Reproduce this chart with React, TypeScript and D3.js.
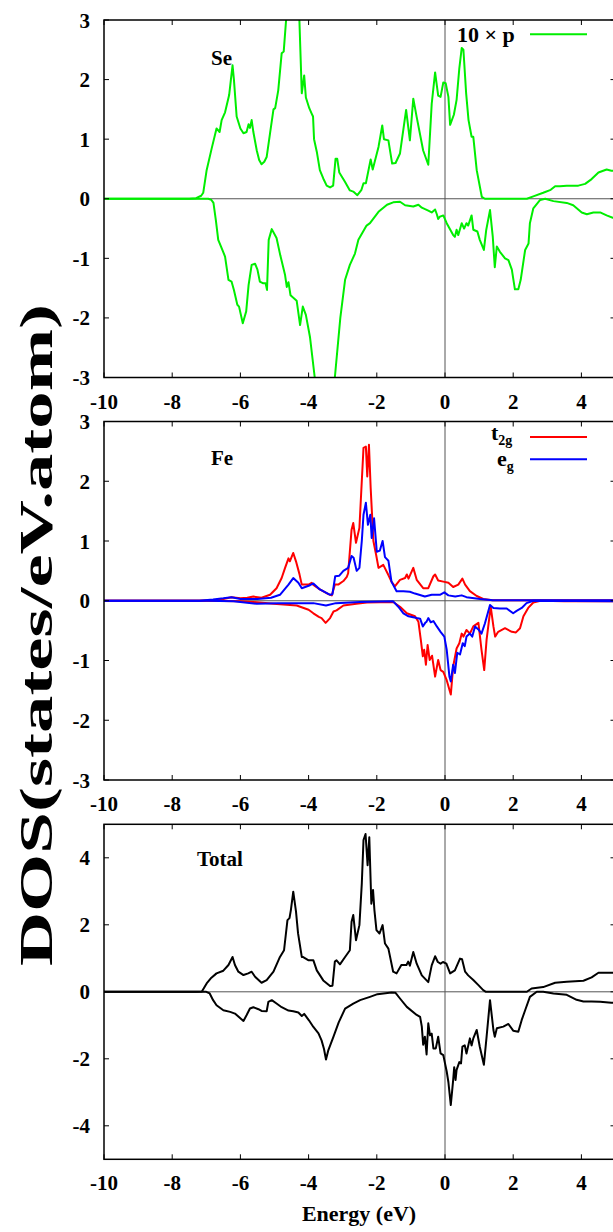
import React from "react";
import * as d3 from "d3";

// Energy axis ticks (eV) and panel y ticks
const energyTicks = [-10, -8, -6, -4, -2, 0, 2, 4];
const smallTicks = [-3, -2, -1, 0, 1, 2, 3];
const totalTicks = [-4, -2, 0, 2, 4];

// Se 10×p DOS, spin up / spin down  [energy, DOS]
const seUp: [number, number][] = [[-10,0],[-7.5,0],[-7.3,0.01],[-7.15,0.05],[-7.09,0.10],[-6.99,0.48],[-6.84,0.85],[-6.70,1.18],[-6.61,1.12],[-6.55,1.32],[-6.45,1.45],[-6.33,1.74],[-6.28,1.99],[-6.23,2.24],[-6.19,2.0],[-6.11,1.38],[-6.0,1.18],[-5.91,1.10],[-5.82,1.12],[-5.76,1.25],[-5.72,1.19],[-5.67,1.32],[-5.62,1.12],[-5.52,0.81],[-5.45,0.65],[-5.38,0.58],[-5.30,0.62],[-5.23,0.70],[-5.13,1.10],[-5.03,1.5],[-4.98,1.52],[-4.89,1.82],[-4.79,2.44],[-4.73,2.47],[-4.66,3.0],[-4.6,3.8],[-4.5,4.4],[-4.4,4.2],[-4.3,3.5],[-4.27,3.0],[-4.20,1.77],[-4.13,2.07],[-4.08,1.70],[-3.98,1.52],[-3.91,1.43],[-3.87,1.38],[-3.84,1.0],[-3.76,0.79],[-3.67,0.48],[-3.57,0.34],[-3.47,0.22],[-3.37,0.19],[-3.28,0.22],[-3.21,0.67],[-3.16,0.67],[-3.10,0.44],[-2.93,0.28],[-2.79,0.14],[-2.69,0.12],[-2.57,0.06],[-2.45,0.15],[-2.39,0.26],[-2.32,0.26],[-2.18,0.66],[-2.12,0.49],[-1.95,0.87],[-1.84,1.23],[-1.79,1.0],[-1.66,0.98],[-1.55,0.59],[-1.45,0.60],[-1.32,0.76],[-1.14,1.49],[-1.03,0.98],[-0.93,1.68],[-0.83,1.37],[-0.64,0.81],[-0.49,0.57],[-0.39,1.59],[-0.29,2.12],[-0.20,1.73],[-0.13,1.71],[-0.05,1.95],[0.02,1.94],[0.10,1.71],[0.15,1.24],[0.26,1.41],[0.34,1.66],[0.42,2.19],[0.49,2.53],[0.54,2.50],[0.62,1.77],[0.69,1.32],[0.78,1.04],[0.83,1.04],[0.93,0.48],[1.08,0.03],[1.17,0.0],[2.40,0.0],[2.59,0.04],[2.88,0.10],[3.10,0.15],[3.23,0.21],[3.37,0.21],[3.57,0.22],[3.91,0.22],[4.11,0.25],[4.30,0.33],[4.50,0.44],[4.74,0.49],[4.88,0.47],[5.0,0.47]];
const seDown: [number, number][] = [[-10,0],[-6.94,0],[-6.85,-0.02],[-6.79,-0.07],[-6.72,-0.36],[-6.65,-0.69],[-6.55,-0.83],[-6.45,-0.97],[-6.35,-1.36],[-6.26,-1.39],[-6.19,-1.53],[-6.09,-1.78],[-6.04,-1.81],[-5.93,-2.09],[-5.83,-1.89],[-5.76,-1.45],[-5.67,-1.11],[-5.57,-1.09],[-5.50,-1.19],[-5.43,-1.39],[-5.33,-1.42],[-5.26,-1.42],[-5.22,-1.53],[-5.17,-0.69],[-5.08,-0.51],[-4.94,-0.66],[-4.83,-0.95],[-4.69,-1.28],[-4.64,-1.48],[-4.59,-1.40],[-4.53,-1.62],[-4.35,-1.71],[-4.25,-2.12],[-4.17,-1.81],[-4.08,-1.95],[-3.96,-2.32],[-3.82,-3.0],[-3.6,-3.9],[-3.5,-4.2],[-3.4,-3.9],[-3.23,-3.0],[-3.07,-2.0],[-2.93,-1.36],[-2.79,-1.11],[-2.64,-0.92],[-2.54,-0.69],[-2.30,-0.45],[-2.2,-0.41],[-1.95,-0.22],[-1.7,-0.10],[-1.52,-0.06],[-1.32,-0.05],[-1.17,-0.11],[-0.93,-0.13],[-0.78,-0.10],[-0.68,-0.15],[-0.49,-0.20],[-0.39,-0.23],[-0.29,-0.18],[-0.24,-0.26],[-0.20,-0.34],[-0.15,-0.30],[-0.05,-0.28],[0.05,-0.41],[0.24,-0.61],[0.29,-0.64],[0.34,-0.52],[0.39,-0.61],[0.49,-0.41],[0.56,-0.50],[0.63,-0.41],[0.68,-0.45],[0.78,-0.28],[0.83,-0.52],[0.95,-0.55],[1.02,-0.69],[1.14,-0.86],[1.21,-0.52],[1.32,-0.19],[1.40,-0.63],[1.46,-1.15],[1.52,-0.80],[1.61,-0.89],[1.76,-1.0],[1.86,-1.03],[1.96,-1.19],[2.05,-1.52],[2.15,-1.52],[2.22,-1.36],[2.35,-0.86],[2.45,-0.75],[2.49,-0.41],[2.59,-0.16],[2.79,-0.02],[2.94,0.0],[3.18,-0.04],[3.57,-0.07],[3.76,-0.11],[4.01,-0.23],[4.16,-0.26],[4.35,-0.23],[4.55,-0.23],[4.74,-0.28],[4.92,-0.32],[5.0,-0.32]];

// Fe d-states: t2g and eg, spin up / spin down
const t2gUp: [number, number][] = [[-10,0],[-7.2,0],[-6.8,0.01],[-6.5,0.03],[-6.26,0.06],[-6.0,0.04],[-5.8,0.05],[-5.62,0.07],[-5.38,0.05],[-5.13,0.10],[-4.94,0.21],[-4.79,0.38],[-4.69,0.55],[-4.59,0.71],[-4.55,0.66],[-4.45,0.80],[-4.37,0.66],[-4.27,0.45],[-4.2,0.27],[-4.0,0.27],[-3.91,0.30],[-3.87,0.27],[-3.67,0.19],[-3.42,0.11],[-3.32,0.09],[-3.23,0.27],[-3.13,0.27],[-2.98,0.33],[-2.88,0.40],[-2.84,0.46],[-2.74,1.19],[-2.69,1.30],[-2.61,0.97],[-2.51,1.22],[-2.39,2.56],[-2.32,2.58],[-2.28,2.08],[-2.23,2.61],[-2.18,1.89],[-2.10,1.0],[-2.02,0.77],[-1.95,0.55],[-1.81,0.60],[-1.66,0.43],[-1.57,0.32],[-1.47,0.24],[-1.32,0.35],[-1.17,0.38],[-1.12,0.44],[-1.07,0.37],[-0.93,0.55],[-0.83,0.35],[-0.64,0.21],[-0.49,0.21],[-0.34,0.41],[-0.29,0.44],[-0.20,0.34],[-0.05,0.32],[0.10,0.30],[0.24,0.23],[0.39,0.27],[0.51,0.37],[0.59,0.27],[0.73,0.16],[0.93,0.08],[1.12,0.03],[1.4,0.01],[2.5,0.01],[5.0,0.01]];
const t2gDown: [number, number][] = [[-10,0],[-7,0],[-6,-0.01],[-5.62,-0.02],[-5.03,-0.05],[-4.35,-0.08],[-4.0,-0.15],[-3.86,-0.21],[-3.7,-0.27],[-3.62,-0.29],[-3.50,-0.37],[-3.37,-0.29],[-3.27,-0.18],[-3.18,-0.16],[-2.98,-0.08],[-2.6,-0.05],[-2.29,-0.03],[-1.52,-0.02],[-1.32,-0.10],[-1.12,-0.21],[-0.88,-0.26],[-0.78,-0.35],[-0.71,-0.65],[-0.65,-0.93],[-0.61,-0.82],[-0.56,-1.07],[-0.51,-0.74],[-0.45,-0.99],[-0.38,-0.92],[-0.29,-1.27],[-0.20,-0.99],[-0.13,-1.16],[-0.05,-1.19],[0.05,-1.33],[0.17,-1.57],[0.24,-1.10],[0.34,-0.80],[0.42,-0.71],[0.49,-0.55],[0.54,-0.60],[0.63,-0.49],[0.73,-0.55],[0.83,-0.43],[0.98,-0.37],[1.07,-0.82],[1.15,-1.16],[1.22,-0.65],[1.34,-0.10],[1.42,-0.43],[1.47,-0.60],[1.56,-0.52],[1.76,-0.46],[1.96,-0.52],[2.08,-0.53],[2.20,-0.46],[2.30,-0.26],[2.44,-0.12],[2.59,-0.03],[2.8,0.0],[3.5,-0.01],[5.0,-0.01]];
const egUp: [number, number][] = [[-10,0],[-7.2,0],[-6.8,0.02],[-6.5,0.04],[-6.26,0.06],[-6.0,0.03],[-5.5,0.03],[-5.1,0.05],[-4.84,0.10],[-4.59,0.27],[-4.45,0.38],[-4.30,0.30],[-4.20,0.21],[-3.96,0.26],[-3.86,0.29],[-3.67,0.19],[-3.37,0.10],[-3.30,0.11],[-3.22,0.41],[-3.10,0.42],[-2.98,0.50],[-2.84,0.55],[-2.74,0.75],[-2.68,0.72],[-2.59,0.50],[-2.51,0.55],[-2.44,1.0],[-2.39,1.44],[-2.32,1.64],[-2.26,1.27],[-2.19,1.44],[-2.15,1.05],[-2.08,1.38],[-2.0,0.82],[-1.91,0.84],[-1.83,1.0],[-1.76,0.73],[-1.66,0.67],[-1.57,0.32],[-1.42,0.16],[-1.22,0.16],[-1.03,0.15],[-0.88,0.12],[-0.59,0.07],[-0.39,0.10],[-0.15,0.10],[-0.02,0.14],[0.10,0.09],[0.30,0.07],[0.49,0.09],[0.63,0.06],[1.03,0.03],[1.4,0.01],[5.0,0.01]];
const egDown: [number, number][] = [[-10,0],[-7,0],[-6.2,-0.01],[-5.52,-0.05],[-4.9,-0.04],[-4.3,-0.04],[-3.86,-0.04],[-3.49,-0.08],[-3.2,-0.04],[-2.5,-0.02],[-1.52,-0.01],[-1.37,-0.10],[-1.22,-0.21],[-1.07,-0.26],[-0.83,-0.29],[-0.73,-0.30],[-0.65,-0.43],[-0.58,-0.37],[-0.54,-0.35],[-0.49,-0.29],[-0.42,-0.36],[-0.34,-0.34],[-0.24,-0.43],[-0.13,-0.52],[-0.02,-0.60],[0.05,-0.82],[0.13,-1.27],[0.17,-1.35],[0.24,-1.07],[0.29,-1.21],[0.36,-0.87],[0.44,-0.90],[0.52,-0.71],[0.58,-0.76],[0.63,-0.60],[0.73,-0.55],[0.80,-0.60],[0.88,-0.43],[0.98,-0.48],[1.07,-0.55],[1.17,-0.38],[1.32,-0.07],[1.42,-0.12],[1.61,-0.13],[1.81,-0.13],[2.0,-0.21],[2.10,-0.17],[2.25,-0.12],[2.39,-0.04],[2.59,0.0],[5.0,-0.01]];

// Total DOS, spin up / spin down
const totalUp: [number, number][] = [[-10,0],[-7.3,0],[-7.13,0.01],[-6.99,0.25],[-6.85,0.42],[-6.70,0.55],[-6.50,0.63],[-6.35,0.80],[-6.23,1.04],[-6.16,0.80],[-6.06,0.60],[-5.91,0.50],[-5.77,0.55],[-5.67,0.60],[-5.57,0.45],[-5.38,0.27],[-5.23,0.35],[-5.03,0.60],[-4.84,1.04],[-4.72,1.24],[-4.62,2.14],[-4.56,2.2],[-4.52,2.44],[-4.45,2.99],[-4.37,2.40],[-4.31,1.75],[-4.20,1.04],[-4.17,1.04],[-4.0,0.94],[-3.86,0.94],[-3.76,0.64],[-3.57,0.34],[-3.37,0.17],[-3.30,0.18],[-3.23,0.90],[-3.18,0.94],[-3.08,0.82],[-2.93,1.04],[-2.79,1.24],[-2.74,2.09],[-2.69,2.29],[-2.61,1.54],[-2.51,1.99],[-2.44,3.23],[-2.39,4.53],[-2.33,4.71],[-2.27,3.78],[-2.22,4.61],[-2.16,2.63],[-2.11,3.04],[-2.07,2.44],[-2.01,1.84],[-1.92,1.74],[-1.83,1.99],[-1.76,1.44],[-1.66,1.29],[-1.52,0.60],[-1.42,0.55],[-1.28,0.80],[-1.13,0.80],[-1.08,0.90],[-1.03,0.78],[-0.93,1.19],[-0.83,0.84],[-0.68,0.49],[-0.49,0.29],[-0.39,0.79],[-0.29,1.06],[-0.21,0.89],[-0.13,0.84],[-0.06,0.89],[0.04,0.84],[0.15,0.55],[0.29,0.64],[0.44,0.99],[0.50,0.97],[0.59,0.60],[0.68,0.49],[0.83,0.35],[0.98,0.20],[1.12,0.05],[1.2,0.0],[2.40,0.0],[2.54,0.10],[2.88,0.14],[3.23,0.27],[3.57,0.30],[4.06,0.33],[4.30,0.43],[4.50,0.57],[4.88,0.57],[5.0,0.57]];
const totalDown: [number, number][] = [[-10,0],[-7.0,0],[-6.9,-0.05],[-6.80,-0.25],[-6.70,-0.40],[-6.50,-0.55],[-6.30,-0.60],[-6.16,-0.65],[-5.91,-0.87],[-5.82,-0.70],[-5.72,-0.50],[-5.62,-0.46],[-5.47,-0.52],[-5.38,-0.57],[-5.23,-0.58],[-5.18,-0.30],[-5.08,-0.25],[-4.94,-0.35],[-4.79,-0.46],[-4.59,-0.56],[-4.45,-0.58],[-4.30,-0.62],[-4.20,-0.72],[-4.13,-0.66],[-3.99,-0.85],[-3.86,-1.05],[-3.71,-1.24],[-3.62,-1.45],[-3.55,-1.70],[-3.49,-2.02],[-3.42,-1.74],[-3.27,-1.34],[-3.12,-0.92],[-2.93,-0.50],[-2.69,-0.35],[-2.49,-0.25],[-2.2,-0.15],[-1.98,-0.07],[-1.57,-0.02],[-1.45,-0.03],[-1.32,-0.20],[-1.12,-0.45],[-0.83,-0.69],[-0.73,-0.75],[-0.68,-1.04],[-0.64,-1.58],[-0.59,-1.34],[-0.54,-1.87],[-0.49,-0.94],[-0.44,-1.30],[-0.39,-1.25],[-0.34,-1.69],[-0.27,-1.69],[-0.20,-1.34],[-0.13,-1.84],[-0.05,-1.89],[0.05,-2.38],[0.10,-2.70],[0.17,-3.38],[0.24,-2.63],[0.27,-2.25],[0.31,-2.63],[0.34,-2.33],[0.42,-2.10],[0.47,-2.14],[0.51,-1.64],[0.58,-1.60],[0.63,-1.84],[0.73,-1.39],[0.78,-1.60],[0.83,-1.39],[0.93,-1.14],[1.02,-1.64],[1.14,-2.18],[1.22,-1.34],[1.32,-0.25],[1.42,-1.14],[1.46,-1.34],[1.52,-1.09],[1.71,-1.04],[1.86,-0.96],[2.0,-1.16],[2.15,-1.19],[2.25,-0.84],[2.35,-0.55],[2.49,-0.15],[2.69,0.0],[2.88,0.0],[3.18,-0.05],[3.57,-0.09],[3.86,-0.24],[4.06,-0.29],[4.30,-0.29],[4.55,-0.30],[4.88,-0.33],[5.0,-0.33]];

const FONT = '"Liberation Serif", "Times New Roman", Times, serif';
const X_LEFT = 104;
const X_RIGHT = 615.5;

type Series = { data: [number, number][]; color: string };
type Panel = {
  id: string;
  top: number;
  bottom: number;
  domain: [number, number];
  ticks: number[];
  series: Series[];
};

const panels: Panel[] = [
  {
    id: "se",
    top: 20,
    bottom: 377.5,
    domain: [-3, 3],
    ticks: smallTicks,
    series: [
      { data: seUp, color: "#00ee00" },
      { data: seDown, color: "#00ee00" },
    ],
  },
  {
    id: "fe",
    top: 421.5,
    bottom: 780,
    domain: [-3, 3],
    ticks: smallTicks,
    series: [
      { data: t2gUp, color: "#ff0000" },
      { data: t2gDown, color: "#ff0000" },
      { data: egUp, color: "#0000ff" },
      { data: egDown, color: "#0000ff" },
    ],
  },
  {
    id: "tot",
    top: 824.3,
    bottom: 1159.3,
    domain: [-5, 5],
    ticks: totalTicks,
    series: [
      { data: totalUp, color: "#000000" },
      { data: totalDown, color: "#000000" },
    ],
  },
];

const x = d3.scaleLinear().domain([-10, 5]).range([X_LEFT, X_RIGHT]);

const boldText: React.CSSProperties = { fontFamily: FONT, fontWeight: 700 };

function PanelView({ p }: { p: Panel }) {
  const y = d3.scaleLinear().domain(p.domain).range([p.bottom, p.top]);
  const line = d3
    .line<[number, number]>()
    .x((d) => x(d[0]))
    .y((d) => y(d[1]));
  const clipId = `clip-${p.id}`;
  const tickLen = 5;
  return (
    <g>
      <defs>
        <clipPath id={clipId}>
          <rect x={X_LEFT} y={p.top} width={X_RIGHT - X_LEFT} height={p.bottom - p.top} />
        </clipPath>
      </defs>
      {/* zero axes */}
      <line x1={X_LEFT} x2={X_RIGHT} y1={y(0)} y2={y(0)} stroke="#555" strokeWidth={1} />
      <line x1={x(0)} x2={x(0)} y1={p.top} y2={p.bottom} stroke="#555" strokeWidth={1} />
      {/* curves */}
      <g clipPath={`url(#${clipId})`}>
        {p.series.map((s, i) => (
          <path
            key={i}
            d={line(s.data) || ""}
            fill="none"
            stroke={s.color}
            strokeWidth={2}
            strokeLinejoin="round"
          />
        ))}
      </g>
      {/* border */}
      <rect
        x={X_LEFT}
        y={p.top}
        width={X_RIGHT - X_LEFT}
        height={p.bottom - p.top}
        fill="none"
        stroke="#000"
        strokeWidth={1.5}
      />
      {/* x ticks (bottom and mirrored top) */}
      {energyTicks.map((t) => (
        <g key={`xt${t}`}>
          <line x1={x(t)} x2={x(t)} y1={p.bottom} y2={p.bottom - tickLen} stroke="#000" strokeWidth={1} />
          <line x1={x(t)} x2={x(t)} y1={p.top} y2={p.top + tickLen} stroke="#000" strokeWidth={1} />
          <text x={x(t)} y={p.bottom + 31} textAnchor="middle" fontSize={21} style={boldText}>
            {t}
          </text>
        </g>
      ))}
      {/* y ticks (left and mirrored right) */}
      {p.ticks.map((t) => (
        <g key={`yt${t}`}>
          <line x1={X_LEFT} x2={X_LEFT + tickLen} y1={y(t)} y2={y(t)} stroke="#000" strokeWidth={1} />
          <line x1={X_RIGHT} x2={X_RIGHT - tickLen} y1={y(t)} y2={y(t)} stroke="#000" strokeWidth={1} />
          <text x={90} y={y(t) + 7.5} textAnchor="end" fontSize={21} style={boldText}>
            {t}
          </text>
        </g>
      ))}
    </g>
  );
}

export default function App() {
  return (
    <svg
      width={613}
      height={1232}
      style={{ position: "absolute", left: 0, top: 0, background: "#fff" }}
    >
      <rect x={0} y={0} width={613} height={1232} fill="#fff" />
      {panels.map((p) => (
        <PanelView key={p.id} p={p} />
      ))}

      {/* panel labels */}
      <text x={211} y={65} fontSize={21} style={boldText}>Se</text>
      <text x={211} y={465} fontSize={21} style={boldText}>Fe</text>
      <text x={197} y={866} fontSize={21} style={boldText}>Total</text>

      {/* Se legend */}
      <text x={457} y={42} fontSize={22} style={boldText}>10 × p</text>
      <line x1={530} x2={587} y1={34.3} y2={34.3} stroke="#00ee00" strokeWidth={2} />

      {/* Fe legend */}
      <text x={491} y={440} fontSize={22} style={boldText}>
        t<tspan fontSize={14} dy={5}>2g</tspan>
      </text>
      <line x1={530} x2={587} y1={437} y2={437} stroke="#ff0000" strokeWidth={2} />
      <text x={497} y={466} fontSize={22} style={boldText}>
        e<tspan fontSize={14} dy={5}>g</tspan>
      </text>
      <line x1={530} x2={587} y1={459.3} y2={459.3} stroke="#0000ff" strokeWidth={2} />

      {/* axis titles */}
      <text x={359} y={1221} textAnchor="middle" fontSize={22} style={boldText}>
        Energy (eV)
      </text>
      <text
        transform="translate(52,635) rotate(-90)"
        textAnchor="middle"
        fontSize={47}
        textLength={662}
        lengthAdjust="spacingAndGlyphs"
        style={boldText}
      >
        DOS(states/eV.atom)
      </text>
    </svg>
  );
}
